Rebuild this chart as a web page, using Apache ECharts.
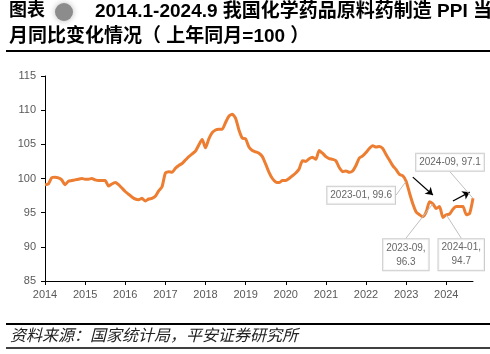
<!DOCTYPE html>
<html>
<head>
<meta charset="utf-8">
<script src="https://cdn.jsdelivr.net/npm/echarts@6/dist/echarts.min.js"></script>
<style>
  html, body { margin: 0; padding: 0; background: #fff; }
  #chart { width: 490px; height: 354px; }
</style>
</head>
<body>
<div id="chart"></div>
<script>
// monthly values, 2014-01 .. 2024-09 (same month last year = 100)
const ppi2014 = [99.1, 99.2, 100.1, 100.2, 100.1, 99.8, 99.1, 99.6, 99.7, 99.8, 99.9, 100.0];
const ppi2015 = [99.9, 99.9, 100.0, 99.8, 99.7, 99.7, 99.7, 98.9, 99.2, 99.4, 99.1, 98.6];
const ppi2016 = [98.1, 97.7, 97.3, 97.0, 96.9, 97.1, 96.7, 97.0, 97.1, 97.4, 98.2, 98.8];
const ppi2017 = [100.8, 101.0, 100.9, 101.5, 101.9, 102.2, 102.7, 103.2, 103.6, 104.0, 104.9, 105.7];
const ppi2018 = [104.5, 105.8, 106.7, 107.1, 107.2, 107.2, 108.2, 109.1, 109.4, 108.8, 107.1, 105.9];
const ppi2019 = [105.8, 104.6, 104.1, 103.9, 103.7, 103.2, 102.1, 100.9, 100.0, 99.5, 99.4, 99.7];
const ppi2020 = [99.7, 100.0, 100.4, 100.8, 101.4, 102.6, 102.5, 102.9, 103.1, 102.8, 104.1, 103.7];
const ppi2021 = [103.2, 102.9, 102.8, 102.6, 101.6, 101.0, 101.1, 100.9, 101.1, 101.9, 103.0, 103.3];
const ppi2022 = [103.8, 104.4, 104.8, 104.6, 104.7, 104.4, 103.5, 102.7, 101.9, 101.3, 100.6, 100.4];
const ppi2023 = [99.6, 97.9, 96.3, 95.1, 94.7, 94.4, 95.1, 96.6, 96.3, 95.6, 95.9, 94.3];
const ppi2024 = [94.7, 94.8, 95.5, 95.9, 95.9, 95.9, 94.7, 94.9, 97.1];

const values = [].concat(ppi2014, ppi2015, ppi2016, ppi2017, ppi2018, ppi2019,
  ppi2020, ppi2021, ppi2022, ppi2023, ppi2024);

const months = [];
for (let y = 2014; y <= 2024; y++) {
  for (let m = 1; m <= 12; m++) {
    if (months.length < values.length) months.push(y + '-' + String(m).padStart(2, '0'));
  }
}

// annotated points and the label offset of their callouts
const calloutMonths = ['2023-01', '2023-09', '2024-01', '2024-09'];
const calloutText = ['2023-01, 99.6', '2023-09,\n96.3', '2024-01,\n94.7', '2024-09, 97.1'];
const calloutShift = [[-45, 14], [-27, 51], [15, 40], [-23, -36]];

// arrows: [month index, value] -> [month index, value]
const arrows = [
  [[110, 100.2], [116, 97.6]],
  [[122, 96.7], [127, 98.0]]
];

const yTicks = { min: 85, max: 115, interval: 5 };

const FONT = '"Liberation Sans", "Noto Sans CJK SC", sans-serif';
const chart = echarts.init(document.getElementById('chart'), null, { renderer: 'canvas' });

const option = {
  animation: false,
  grid: { left: 45, right: 17, top: 76, bottom: 73, containLabel: false },
  xAxis: {
    type: 'category',
    data: months,
    boundaryGap: false,
    axisLine: { lineStyle: { color: '#000', width: 1 } },
    axisTick: { show: true, length: 4, interval: (i) => i % 12 === 0, lineStyle: { color: '#000' } },
    axisLabel: {
      interval: (i) => i % 12 === 0,
      formatter: (v) => v.slice(0, 4),
      color: '#595959', fontSize: 11, fontFamily: FONT, margin: 8
    },
    splitLine: { show: false }
  },
  yAxis: {
    type: 'value',
    min: yTicks.min, max: yTicks.max, interval: yTicks.interval,
    axisLine: { show: true, lineStyle: { color: '#000', width: 1 } },
    axisTick: { show: true, length: 4, lineStyle: { color: '#000' } },
    axisLabel: { color: '#595959', fontSize: 11, fontFamily: FONT, margin: 9 },
    splitLine: { show: false }
  },
  series: [
    {
      type: 'line',
      data: values,
      showSymbol: false,
      smooth: 0.2,
      lineStyle: { color: '#ED7D31', width: 3 },
      itemStyle: { color: '#ED7D31' },
      emphasis: { disabled: true },
      silent: true,
      z: 2
    },
    {
      type: 'scatter',
      data: calloutMonths.map((mo, i) => {
        const idx = months.indexOf(mo);
        return { value: [idx, values[idx]], label: { formatter: calloutText[i] } };
      }),
      symbolSize: 1,
      itemStyle: { color: 'rgba(0,0,0,0)' },
      silent: true,
      z: 5,
      label: {
        show: true,
        position: 'inside',
        color: '#404040',
        fontSize: 10,
        fontFamily: FONT,
        lineHeight: 14,
        align: 'center',
        backgroundColor: '#fff',
        borderColor: '#BFBFBF',
        borderWidth: 1,
        padding: [2, 3, 1, 3]
      },
      labelLine: { show: true, lineStyle: { color: '#BFBFBF', width: 1 } },
      labelLayout: (p) => ({ dx: calloutShift[p.dataIndex][0], dy: calloutShift[p.dataIndex][1] }),
      markLine: {
        silent: true,
        symbol: ['none', 'arrow'],
        symbolSize: 7,
        label: { show: false },
        lineStyle: { color: '#000', width: 1.3, type: 'solid' },
        data: arrows.map((a) => [{ coord: a[0] }, { coord: a[1] }])
      }
    }
  ],
  graphic: [
    { type: 'text', left: 9, top: 2, style: { text: '图表', font: 'bold 18px ' + FONT, fill: '#000' } },
    { type: 'circle', shape: { cx: 64, cy: 12, r: 9 }, style: { fill: '#8c8c8c', shadowBlur: 6, shadowColor: '#bbb' } },
    { type: 'text', left: 95, top: 2, style: { text: '2014.1-2024.9 我国化学药品原料药制造 PPI 当', font: 'bold 19px ' + FONT, fill: '#000' } },
    { type: 'text', left: 9, top: 27, style: { text: '月同比变化情况（ 上年同月=100 ）', font: 'bold 19px ' + FONT, fill: '#000' } },
    { type: 'line', shape: { x1: 6, y1: 51, x2: 490, y2: 51 }, style: { stroke: '#000', lineWidth: 2 } },
    { type: 'line', shape: { x1: 6, y1: 324, x2: 490, y2: 324 }, style: { stroke: '#000', lineWidth: 2 } },
    { type: 'text', left: 10, top: 329, style: { text: '资料来源：国家统计局，平安证券研究所', font: 'italic 16px ' + FONT, fill: '#222' } },
    { type: 'line', shape: { x1: 6, y1: 348, x2: 490, y2: 348 }, style: { stroke: '#000', lineWidth: 1.5 } }
  ]
};

chart.setOption(option);
</script>
</body>
</html>
